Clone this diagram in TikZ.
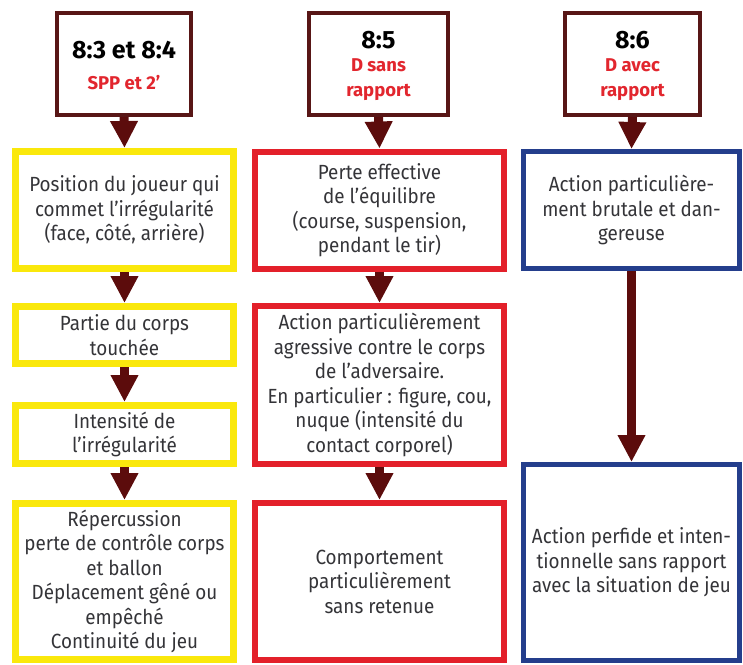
\documentclass[tikz,border=0pt]{standalone}
\usepackage{fontspec}
\setmainfont{Fira Sans}[FakeStretch=0.92]
\newfontfamily\titrefont{Fira Sans}
\usetikzlibrary{arrows.meta}

\definecolor{jaune}{RGB}{250,232,12}
\definecolor{rouge}{RGB}{227,32,42}
\definecolor{bleu}{RGB}{36,62,140}
\definecolor{brun}{RGB}{88,22,22}
\definecolor{fonce}{RGB}{92,12,12}
\definecolor{gris}{RGB}{52,52,56}
\definecolor{rougetxt}{RGB}{226,38,46}

\begin{document}
\begin{tikzpicture}[x=1pt,y=-1pt,
	haut/.style={draw=brun, line width=4pt, fill=white, minimum height=102pt, align=center, inner sep=0pt, text=gris},
	jbox/.style={draw=jaune, line width=7pt, minimum width=218pt, align=center, inner sep=0pt, text=gris, font=\fontsize{20.5}{24.5}\selectfont},
	rbox/.style={draw=rouge, line width=6pt, minimum width=249pt, align=center, inner sep=0pt, text=gris, font=\fontsize{20.5}{24.5}\selectfont},
	bbox/.style={draw=bleu, line width=5pt, minimum width=216pt, align=center, inner sep=0pt, text=gris, font=\fontsize{20.5}{24.5}\selectfont},
	fleche/.style={draw=fonce, line width=9pt, -{Triangle[width=26pt,length=27pt]}},
	titre/.style={font=\titrefont\fontsize{25}{28}\selectfont\bfseries},
	sous/.style={font=\titrefont\fontsize{18.5}{25}\selectfont\bfseries, text=rougetxt}]

		\useasboundingbox (0,0) rectangle (743,664);

		\node [haut, minimum width=134pt] (a1) at (124,64) {};
		\node [titre] at (124,50) {8:3 et 8:4};
		\node [sous] at (124,83) {SPP et 2’};
		\node [haut, minimum width=139pt] (b1) at (378.5,64) {};
		\node [titre] at (378.5,40) {8:5};
		\node [sous, align=center] at (378.5,79.5) {D sans\\rapport};
		\node [haut, minimum width=135pt] (c1) at (632.5,64) {};
		\node [titre] at (632.5,40) {8:6};
		\node [sous, align=center] at (632.5,79.5) {D avec\\rapport};

		\node [jbox, minimum height=117pt] (a2) at (124.5,210) {Position du joueur qui\\commet l’irrégularité\\(face, côté, arrière)};
		\node [jbox, minimum height=57pt] (a3) at (124.5,335) {Partie du corps\\touchée};
		\node [jbox, minimum height=58pt] (a4) at (124.5,434.5) {Intensité de\\l’irrégularité};
		\node [jbox, minimum height=156pt] (a5) at (124.5,581.5) {Répercussion\\perte de contrôle corps\\et ballon\\Déplacement gêné ou\\empêché\\Continuité du jeu};

		\node [rbox, minimum height=117pt] (b2) at (379.5,210) {Perte effective\\de l’équilibre\\(course, suspension,\\pendant le tir)};
		\node [rbox, minimum height=158pt] (b3) at (379.5,385) {Action particulièrement\\agressive contre le corps\\de l’adversaire.\\En particulier : figure, cou,\\nuque (intensité du\\contact corporel)};
		\node [rbox, minimum height=157pt] (b4) at (379.5,581.5) {Comportement\\particulièrement\\sans retenue};

		\node [bbox, minimum height=117pt] (c2) at (631.5,210) {Action particulière-\\ment brutale et dan-\\gereuse};
		\node [bbox, minimum height=196pt] (c3) at (631.5,562.5) {Action perfide et inten-\\tionnelle sans rapport\\avec la situation de jeu};

		\draw [fleche] (a1.south) -- (a2.north);
		\draw [fleche] (a2.south) -- (a3.north);
		\draw [fleche] (a3.south) -- (a4.north);
		\draw [fleche] (a4.south) -- (a5.north);

		\draw [fleche] (b1.south) -- (b2.north);
		\draw [fleche] (b2.south) -- (b3.north);
		\draw [fleche] (b3.south) -- (b4.north);

		\draw [fleche] (c1.south) -- (c2.north);
		\draw [fleche] (c2.south) -- (c3.north);

	\end{tikzpicture}
\end{document}
